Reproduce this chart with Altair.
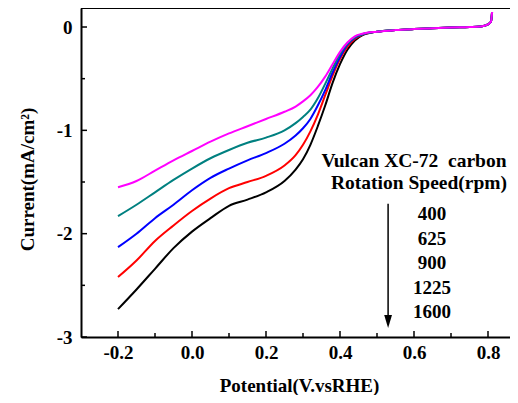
import altair as alt
import pandas as pd

# ---- data ----
potential = [-0.2, -0.15, -0.1, -0.05, 0.0, 0.05, 0.1, 0.15, 0.2, 0.25, 0.28, 0.3,
             0.32, 0.34, 0.36, 0.38, 0.40, 0.42, 0.44, 0.46, 0.5, 0.55, 0.6, 0.65,
             0.7, 0.75, 0.78, 0.8, 0.808, 0.811]

tail = [-0.045, -0.03, -0.02, -0.012, -0.005, 0.0, 0.005, 0.025, 0.05, 0.145]

cur_400 = [-1.55, -1.49, -1.39, -1.29, -1.20, -1.11, -1.03, -0.96, -0.89, -0.82, -0.77, -0.72,
           -0.66, -0.58, -0.48, -0.36, -0.24, -0.15, -0.09, -0.065] + tail
cur_625 = [-1.83, -1.72, -1.60, -1.48, -1.37, -1.27, -1.19, -1.12, -1.07, -1.00, -0.93, -0.87,
           -0.80, -0.69, -0.55, -0.40, -0.26, -0.16, -0.10, -0.07] + tail
cur_900 = [-2.13, -2.00, -1.85, -1.72, -1.58, -1.46, -1.37, -1.29, -1.22, -1.13, -1.05, -0.98,
           -0.89, -0.76, -0.61, -0.44, -0.29, -0.17, -0.105, -0.072] + tail
cur_1225 = [-2.42, -2.26, -2.07, -1.92, -1.78, -1.66, -1.56, -1.50, -1.44, -1.34, -1.24, -1.14,
            -1.01, -0.85, -0.66, -0.47, -0.31, -0.19, -0.115, -0.075] + tail
cur_1600 = [-2.73, -2.54, -2.34, -2.14, -1.98, -1.85, -1.73, -1.67, -1.60, -1.49, -1.38, -1.28,
            -1.14, -0.96, -0.76, -0.54, -0.36, -0.22, -0.13, -0.08] + tail

series_names = ["1600", "1225", "900", "625", "400"]
series_values = [cur_1600, cur_1225, cur_900, cur_625, cur_400]
series_colors = ["#000000", "#ff0000", "#0000ff", "#008080", "#ff00ff"]

speeds_listed = ["400", "625", "900", "1225", "1600"]

x_major = [-0.2, 0.0, 0.2, 0.4, 0.6, 0.8]
x_minor = [-0.1, 0.1, 0.3, 0.5, 0.7]
y_major = [0, -1, -2, -3]
y_minor = [-0.5, -1.5, -2.5]

arrow_x = [0.53]
arrow_top = [-1.71]
arrow_bottom = [-2.80]
arrow_head = [-2.85]

# ---- build table ----
rows = []
for name, ys in zip(series_names, series_values):
    for xv, yv in zip(potential, ys):
        rows.append({"speed": name, "potential": xv, "current": yv})
df = pd.DataFrame(rows)

FONT = "Liberation Serif"
W, H = 429, 329

xscale = alt.Scale(domain=[-0.3, -0.3 + W / 370.0], nice=False, zero=False)
yscale = alt.Scale(domain=[-3, 0.184], nice=False, zero=False)

x_axis = alt.Axis(
    values=x_major, title="Potential(V.vsRHE)",
    labelExpr="datum.value < 0 ? '-' + format(abs(datum.value), '.1f') : format(datum.value, '.1f')",
    ticks=False, grid=False, domainColor="black", domainWidth=2,
    labelFont=FONT, labelFontWeight="bold", labelFontSize=19, labelColor="black",
    labelPadding=6, labelFlush=False,
    titleFont=FONT, titleFontWeight="bold", titleFontSize=19, titleColor="black",
    titleX=218, titleY=54, titleBaseline="alphabetic", titleAlign="center",
)
y_axis = alt.Axis(
    values=y_major, title="Current(mA/cm²)",
    labelExpr="datum.value < 0 ? '-' + format(abs(datum.value), 'd') : '0'",
    ticks=False, grid=False, domainColor="black", domainWidth=2,
    labelFont=FONT, labelFontWeight="bold", labelFontSize=19, labelColor="black",
    labelPadding=9, labelFlush=False,
    titleFont=FONT, titleFontWeight="bold", titleFontSize=19, titleColor="black",
    titleX=-48, titleY=171, titleBaseline="alphabetic", titleAlign="center", titleAngle=270,
)

def X(field="potential"):
    return alt.X(f"{field}:Q", scale=xscale, axis=x_axis, title="Potential(V.vsRHE)")

def Y(field="current"):
    return alt.Y(f"{field}:Q", scale=yscale, axis=y_axis, title="Current(mA/cm²)")

lines = alt.Chart(df).mark_line(strokeWidth=2, interpolate="monotone").encode(
    x=X(), y=Y(),
    color=alt.Color("speed:N", scale=alt.Scale(domain=series_names, range=series_colors), legend=None),
    detail="speed:N",
)

top_border = alt.Chart(pd.DataFrame({"a": [0]})).mark_rule(color="black", strokeWidth=2).encode(
    x=alt.value(0), x2=alt.value(W), y=alt.value(0)
)

ytick_major = alt.Chart(pd.DataFrame({"current": y_major})).mark_rule(color="black", strokeWidth=1.5).encode(
    y=Y(), x=alt.value(0), x2=alt.value(6)
)
ytick_minor = alt.Chart(pd.DataFrame({"current": y_minor})).mark_rule(color="black", strokeWidth=1.5).encode(
    y=Y(), x=alt.value(0), x2=alt.value(4)
)
xtick_major = alt.Chart(pd.DataFrame({"potential": x_major})).mark_rule(color="black", strokeWidth=1.5).encode(
    x=X(), y=alt.value(H), y2=alt.value(H - 6)
)
xtick_minor = alt.Chart(pd.DataFrame({"potential": x_minor})).mark_rule(color="black", strokeWidth=1.5).encode(
    x=X(), y=alt.value(H), y2=alt.value(H - 4)
)

arrow_df = pd.DataFrame({"potential": arrow_x, "current": arrow_top, "current_end": arrow_bottom, "head": arrow_head})
arrow_line = alt.Chart(arrow_df).mark_rule(color="black", strokeWidth=1.5).encode(
    x=X(), y=Y(), y2="current_end:Q",
)
arrow_tip = alt.Chart(arrow_df).mark_point(
    shape="M-0.6,-1L0.6,-1L0,1Z", filled=True, color="black", opacity=1, size=169
).encode(x=X(), y=Y("head"))

def label(text, px, py, size=19):
    return alt.Chart(pd.DataFrame({"t": [text]})).mark_text(
        font=FONT, fontWeight="bold", fontSize=size, color="black", align="center", baseline="middle"
    ).encode(text="t:N", x=alt.value(px), y=alt.value(py))

texts = [label("Vulcan XC-72\u00a0 carbon", 333, 153, 19.5), label("Rotation Speed(rpm)", 338, 175, 19.5)]
for i, s in enumerate(speeds_listed):
    texts.append(label(s, 351, [206, 231, 255, 280, 304][i]))

chart = alt.layer(
    lines, top_border, ytick_major, ytick_minor, xtick_major, xtick_minor, arrow_line, arrow_tip, *texts
).properties(
    width=W, height=H,
    autosize=alt.AutoSizeParams(type="none"),
    padding={"left": 73, "top": 0, "right": 0, "bottom": 58},
).configure_view(stroke=None).configure(background="white")

chart.save("out.html", embed_options={"renderer": "svg", "actions": False})
